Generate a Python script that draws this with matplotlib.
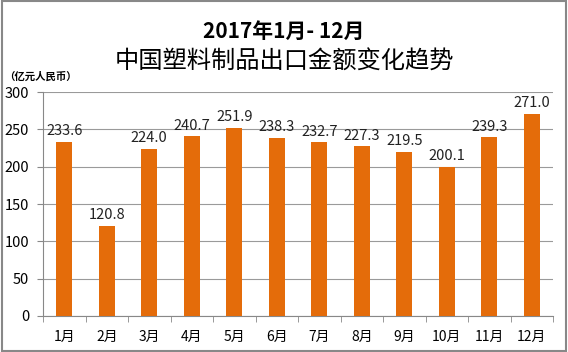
import matplotlib
matplotlib.use("Agg")
import matplotlib.pyplot as plt
import numpy as np

plt.rcParams['font.family'] = ['Noto Sans CJK SC', 'DejaVu Sans']

# Data
months = ["1月", "2月", "3月", "4月", "5月", "6月", "7月", "8月", "9月", "10月", "11月", "12月"]
values = [233.6, 120.8, 224.0, 240.7, 251.9, 238.3, 232.7, 227.3, 219.5, 200.1, 239.3, 271.0]
yticks = [0, 50, 100, 150, 200, 250, 300]

fig = plt.figure(figsize=(5.68, 3.52), dpi=100)
ax = fig.add_axes([0.0757, 0.1023, 0.898, 0.6363])

x = np.arange(len(months))
ax.bar(x, values, width=0.38, color="#E46C0A", zorder=3)

# Value labels above bars
for xi, v in zip(x, values):
    ax.text(xi, v + 5, "%.1f" % v, ha="center", va="bottom", fontsize=10.5, color="#222222", zorder=4)

ax.set_xlim(-0.5, len(months) - 0.5)
ax.set_ylim(0, 300)
ax.set_yticks(yticks)
ax.set_yticklabels([str(t) for t in yticks], fontsize=10.5)
ax.set_xticks(x)
ax.set_xticklabels(months, fontsize=10)
ax.set_xticks(np.arange(len(months) + 1) - 0.5, minor=True)
ax.tick_params(axis="x", which="major", length=0, pad=10)
ax.tick_params(axis="x", which="minor", length=4, color="#888888")
ax.tick_params(axis="y", length=4, color="#888888", pad=6)

ax.grid(axis="y", color="#9a9a9a", linewidth=0.8, zorder=0)
for side in ["top", "right"]:
    ax.spines[side].set_visible(False)
ax.spines["left"].set_color("#888888")
ax.spines["bottom"].set_color("#888888")

# Titles and unit label
fig.text(0.5, 0.912, "2017年1月- 12月", ha="center", va="center", fontsize=15, fontweight="bold")
fig.text(0.5, 0.826, "中国塑料制品出口金额变化趋势", ha="center", va="center", fontsize=17.5)
fig.text(0.008, 0.781, "（亿元人民币）", ha="left", va="center", fontsize=7.5, fontweight="bold")

# Frame around the figure
fig.patches.append(plt.Rectangle((0.003, 0.004), 0.994, 0.992, transform=fig.transFigure,
                                 fill=False, edgecolor="#888888", linewidth=1.5))

fig.savefig("out.png", dpi=100)
